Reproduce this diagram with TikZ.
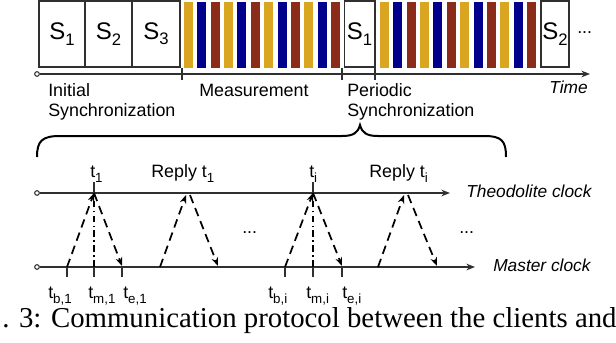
\documentclass[tikz,border=0pt]{standalone}
\usepackage{fontspec}
\setmainfont{Liberation Sans}
\newfontfamily\capfont{Liberation Serif}
\usetikzlibrary{arrows.meta}
\definecolor{BarGold}{HTML}{DAA520}
\definecolor{BarBlue}{HTML}{00008C}
\definecolor{BarBrown}{HTML}{8B2B1A}
\definecolor{LineGray}{HTML}{303030}
\newcommand{\lsub}[2][10]{\raisebox{-4pt}{\fontsize{#1}{#1}\selectfont #2}}

\begin{document}
\begin{tikzpicture}[x=0.75pt,y=-0.75pt,
          >={Stealth[length=6.5pt,width=5pt]},
          slot/.style={draw=LineGray,line width=1pt,fill=white,inner sep=0pt,
            minimum height=49.5pt,font=\fontsize{18}{20}\selectfont},
          axis/.style={->,draw=LineGray,line width=1pt},
          tickmark/.style={draw=LineGray,line width=1pt},
          origin/.style={circle,draw=LineGray,line width=0.8pt,fill=white,
            inner sep=0pt,minimum size=3.5pt},
          msg/.style={->,line width=1.3pt,dash pattern=on 6.5pt off 4pt},
          midline/.style={line width=1.3pt,dash pattern=on 5pt off 2.5pt on 1.2pt off 2.5pt},
          lbl/.style={font=\fontsize{13.4}{16}\selectfont,inner sep=0pt,anchor=base west},
          clk/.style={font=\fontsize{13}{15}\selectfont\itshape,inner sep=0pt}
        ]
        \path[use as bounding box] (0,0) rectangle (616,342);

        % time line with slots
        \foreach \c [count=\i from 0] in {BarGold,BarBlue,BarBrown,BarGold,BarBlue,BarBrown,
            BarGold,BarBlue,BarBrown,BarGold,BarBlue,BarBrown}{
          \fill[\c] ({184+13.36*\i},2) rectangle +(9,66);
          \fill[\c] ({380+13.36*\i},2) rectangle +(9,66);
        }
        \node[slot,minimum width=34.5pt] (sa) at (62,34) {S\lsub[12.5]{1}};
        \node[slot,minimum width=35.25pt] (sb) at (108.5,34) {S\lsub[12.5]{2}};
        \node[slot,minimum width=36pt] (sc) at (156,34) {S\lsub[12.5]{3}};
        \node[slot,minimum width=23pt] (pa) at (359.5,34) {S\lsub[12.5]{1}};
        \node[slot,minimum width=21pt] (pb) at (555,34) {S\lsub[12.5]{2}};
        \node[lbl] (more) at (577,34) {...};

        \node[origin] (t0) at (37,74) {};
        \coordinate (tend) at (590,74);
        \draw[axis] (t0) -- (tend);
        \foreach \x in {182,342,375} \draw[tickmark] (\x,68) -- (\x,80);
        \node[clk,anchor=base east] (timelbl) at (588,94) {Time};
        \node[lbl] (init) at (48,97) {Initial};
        \node[lbl] (initb) at (48,117) {Synchronization};
        \node[lbl] (meas) at (199,97) {Measurement};
        \node[lbl] (peri) at (347,97) {Periodic};
        \node[lbl] (perib) at (347,117) {Synchronization};

        % brace
        \draw[line width=1.5pt] (37,157) .. controls (37,141) and (42,136) .. (60,136)
          -- (342,136) .. controls (353,136) and (358,133) .. (360,125)
          .. controls (362,133) and (367,136) .. (378,136)
          -- (484,136) .. controls (502,136) and (506,141) .. (506,157);

        % clocks
        \node[origin] (th0) at (37,193) {};
        \coordinate (thend) at (450,193);
        \draw[axis] (th0) -- (thend);
        \node[clk,anchor=base west] (thlbl) at (466,197) {Theodolite clock};
        \node[origin] (ma0) at (37,267) {};
        \coordinate (maend) at (475,267);
        \draw[axis] (ma0) -- (maend);
        \node[clk,anchor=base west] (malbl) at (493,271) {Master clock};

        \foreach \x in {94,313} \draw[tickmark] (\x,182) -- (\x,193);
        \foreach \x in {67,94,122,285,313,342} \draw[tickmark] (\x,267) -- (\x,277);

        \coordinate (b1) at (67,267);
        \coordinate (m1) at (94,267);
        \coordinate (r1) at (94,193);
        \coordinate (e1) at (122,266);
        \coordinate (b2) at (160,267);
        \coordinate (q2) at (186,195);
        \coordinate (p2) at (190,195);
        \coordinate (e2) at (218,266);
        \coordinate (bi) at (285,267);
        \coordinate (mi) at (313,267);
        \coordinate (ri) at (313,193);
        \coordinate (ei) at (342,266);
        \coordinate (b4) at (378,267);
        \coordinate (q4) at (404,195);
        \coordinate (p4) at (408,195);
        \coordinate (e4) at (437,266);

        \draw[msg] (b1) -- (r1);
        \draw[midline] (m1) -- (r1);
        \draw[msg] (r1) -- (e1);
        \draw[msg] (b2) -- (q2);
        \draw[msg] (p2) -- (e2);
        \draw[msg] (bi) -- (ri);
        \draw[midline] (mi) -- (ri);
        \draw[msg] (ri) -- (ei);
        \draw[msg] (b4) -- (q4);
        \draw[msg] (p4) -- (e4);

        \node[lbl] (dotsa) at (242,233) {...};
        \node[lbl] (dotsb) at (459,233) {...};

        \node[lbl] (ta) at (90,177) {t\lsub{1}};
        \node[lbl] (repa) at (151,177) {Reply t\lsub{1}};
        \node[lbl] (ti) at (309,177) {t\lsub{i}};
        \node[lbl] (repi) at (369,177) {Reply t\lsub{i}};

        \node[lbl] (tba) at (48,298) {t\lsub{b,1}};
        \node[lbl] (tma) at (88,298) {t\lsub{m,1}};
        \node[lbl] (tea) at (123,298) {t\lsub{e,1}};
        \node[lbl] (tbi) at (268,298) {t\lsub{b,i}};
        \node[lbl] (tmi) at (306,298) {t\lsub{m,i}};
        \node[lbl] (tei) at (342,298) {t\lsub{e,i}};

        \node[inner sep=0pt,anchor=base west,font=\capfont\fontsize{21.6}{24}\selectfont]
          (caption) at (2,327) {. 3: Communication protocol between the clients and};

      \end{tikzpicture}
\end{document}
